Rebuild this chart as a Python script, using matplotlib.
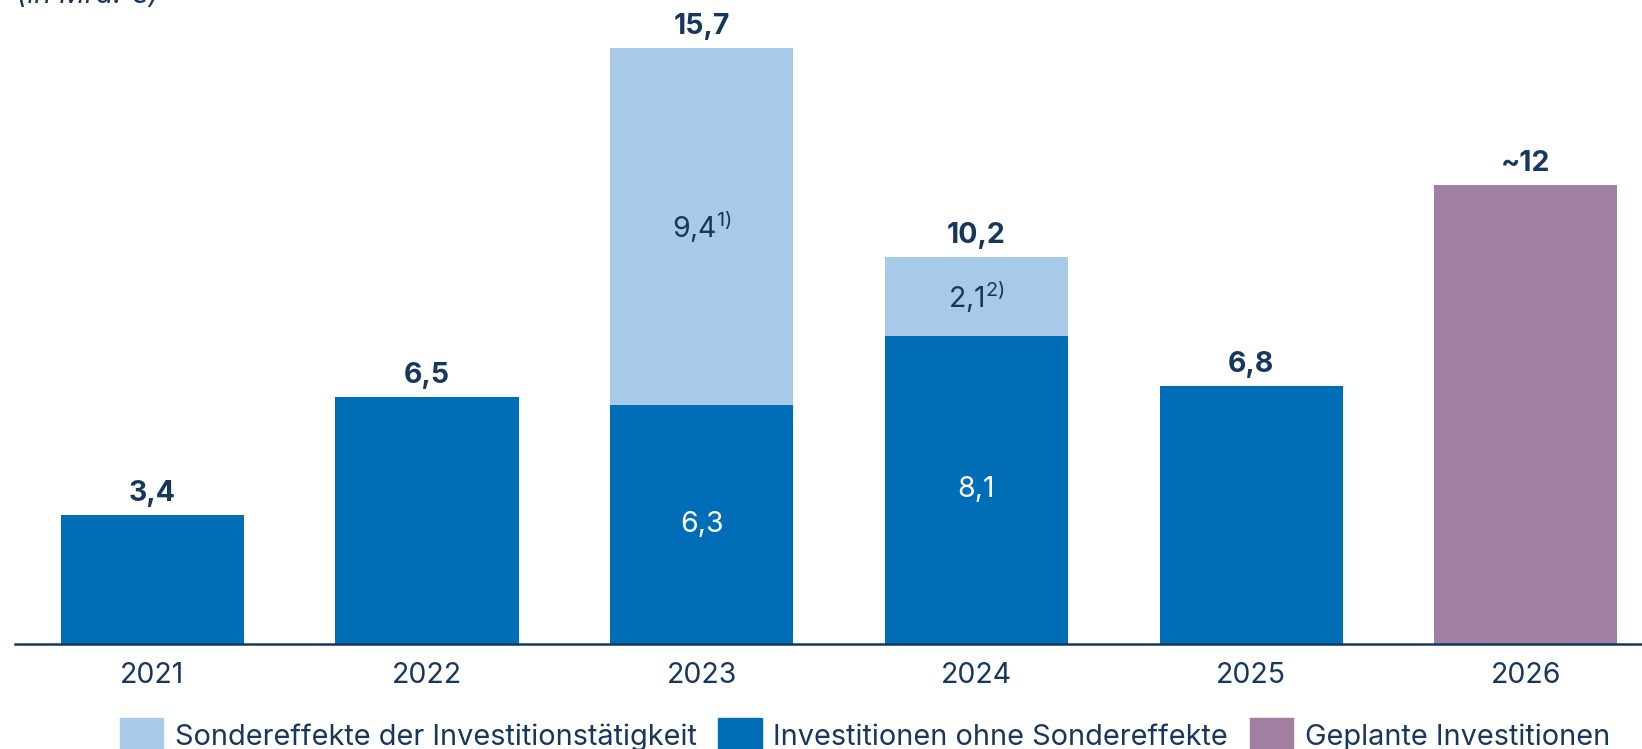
import matplotlib
matplotlib.use("Agg")
import matplotlib.pyplot as plt
from matplotlib.patches import Patch

plt.rcParams['font.family'] = ['Inter', 'DejaVu Sans']
plt.rcParams['mathtext.default'] = 'regular'

# data (in Mrd. EUR)
years = ['2021', '2022', '2023', '2024', '2025', '2026']
base = [3.4, 6.5, 6.3, 8.1, 6.8, 0]          # Investitionen ohne Sondereffekte
special = [0, 0, 9.4, 2.1, 0, 0]             # Sondereffekte
planned = [0, 0, 0, 0, 0, 12.1]              # Geplante Investitionen (~12)
totals = ['3,4', '6,5', '15,7', '10,2', '6,8', '~12']
inner_base = ['', '', '6,3', '8,1', '', '']
inner_special = ['', '', '9,4$^{1)}$', '2,1$^{2)}$', '', '']

navy = '#17375d'
dark_blue = '#006eb7'
light_blue = '#a8cae8'
purple = '#a07fa0'

fig = plt.figure(figsize=(16.42, 7.49), dpi=100)
ax = fig.add_axes([15 / 1642, 1 - 643.5 / 749, 1 - 15 / 1642, 643.5 / 749])

x = range(len(years))
w = 0.667
ax.bar(x, base, w, color=dark_blue)
ax.bar(x, special, w, bottom=base, color=light_blue)
ax.bar(x, planned, w, color=purple)

for i in x:
    top = base[i] + special[i] + planned[i]
    ax.annotate(totals[i], (i, top), xytext=(0, 10), textcoords='offset points',
                ha='center', va='baseline', fontsize=20.5, fontweight='bold', color=navy)
    if inner_base[i]:
        ax.text(i, base[i] / 2, inner_base[i], ha='center', va='center',
                fontsize=20.5, color='white')
    if inner_special[i]:
        ax.text(i, base[i] + special[i] / 2, inner_special[i], ha='center', va='center',
                fontsize=20.5, color=navy)

ax.set_xlim(-0.5, 5.423)
ax.set_ylim(0, 16.97)
ax.set_xticks(list(x))
ax.set_xticklabels(years, fontsize=20.5, color=navy)
ax.tick_params(axis='x', length=0, pad=13)
ax.set_yticks([])
for s in ['top', 'right', 'left']:
    ax.spines[s].set_visible(False)
ax.spines['bottom'].set_color(navy)
ax.spines['bottom'].set_linewidth(1.8)

fig.text(17 / 1642, 1 - 3 / 749, '(in Mrd. €)', fontsize=20.5, style='italic',
         color=navy, ha='left', va='baseline')

handles = [Patch(color=light_blue), Patch(color=dark_blue), Patch(color=purple)]
labels = ['Sondereffekte der Investitionstätigkeit', 'Investitionen ohne Sondereffekte',
          'Geplante Investitionen']
leg = fig.legend(handles, labels, loc='center left', bbox_to_anchor=(120 / 1642, 1 - 735 / 749),
                 ncol=3, frameon=False, fontsize=20.8, handlelength=1.5, handleheight=1.45,
                 handletextpad=0.4, columnspacing=0.75, borderaxespad=0, borderpad=0)
for t in leg.get_texts():
    t.set_color(navy)

fig.savefig('out.png', dpi=100)
